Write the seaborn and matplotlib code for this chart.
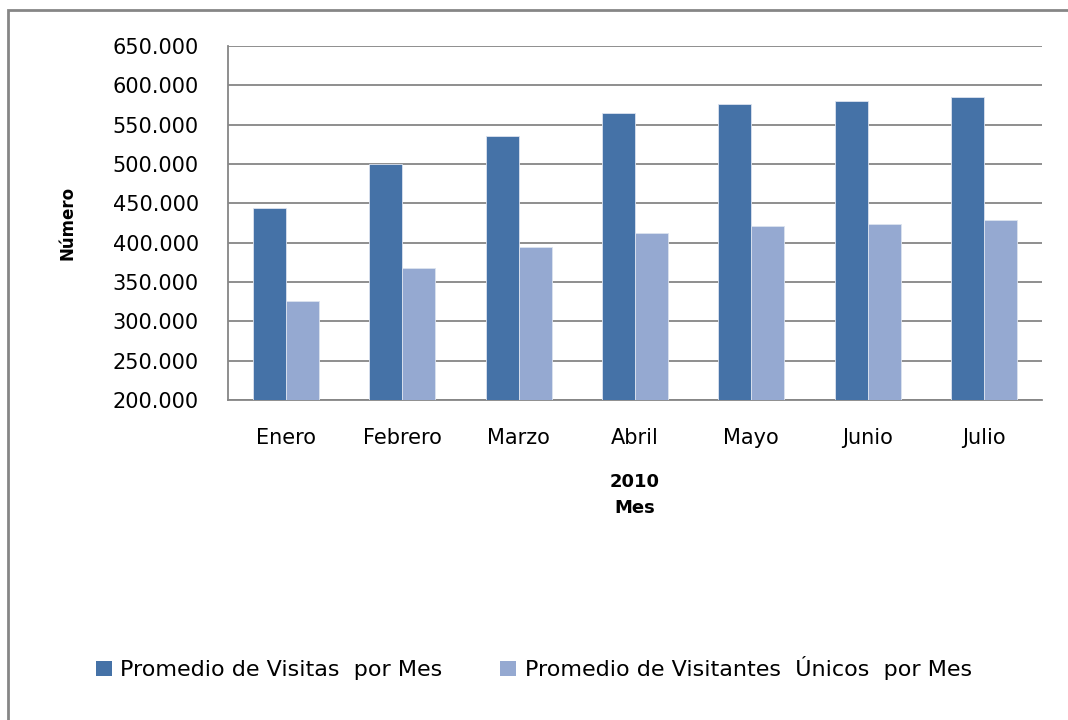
import pandas as pd
import numpy as np
import seaborn as sns
import matplotlib.pyplot as plt
from matplotlib.patches import Patch, Rectangle
from matplotlib.ticker import FuncFormatter
plt.switch_backend('agg')

# ---------------------------- datos ----------------------------
meses = ['Enero', 'Febrero', 'Marzo', 'Abril', 'Mayo', 'Junio', 'Julio']
visitas = [444000, 500000, 535000, 565000, 576000, 580500, 585000]
visitantes = [326000, 368000, 394000, 412000, 421500, 423500, 428500]
series = ['Promedio de Visitas  por Mes', 'Promedio de Visitantes  Únicos  por Mes']
colores = ['#4572A7', '#95A9D1']

df = pd.DataFrame({
    'Mes': meses * 2,
    'Valor': visitas + visitantes,
    'Serie': [series[0]] * len(meses) + [series[1]] * len(meses),
})

sns.set_style('white')
plt.rcParams['font.family'] = ['DejaVu Sans']
plt.rcParams['text.color'] = 'black'
gris = '#868686'

fig = plt.figure(figsize=(10.68, 7.2), dpi=100)
ax = fig.add_axes([228 / 1068, 1 - 400 / 720, (1042 - 228) / 1068, (400 - 46) / 720])

sns.barplot(data=df, x='Mes', y='Valor', hue='Serie', order=meses, hue_order=series,
            palette=colores, saturation=1, width=0.567, edgecolor='#DCE3EF', linewidth=0.6,
            legend=False, ax=ax, zorder=3)

ax.set_ylim(200000, 650000)
ax.set_yticks(np.arange(200000, 650001, 50000))
ax.yaxis.set_major_formatter(FuncFormatter(lambda v, p: f'{int(v):,}'.replace(',', '.')))
ax.set_xlim(-0.5, len(meses) - 0.5)
ax.set_xticks(np.arange(-0.5, len(meses), 1.0), minor=True)
ax.tick_params(axis='x', which='major', length=0, labelsize=15, pad=20, labelcolor='black')
ax.tick_params(axis='x', which='minor', length=6, width=1.2, color=gris)
ax.tick_params(axis='y', length=7, width=1.2, color=gris, labelsize=15, pad=14, labelcolor='black')
ax.grid(axis='y', color=gris, linewidth=1.3, zorder=0)
ax.set_axisbelow(True)
for s in ['top', 'right']:
    ax.spines[s].set_visible(False)
for s in ['left', 'bottom']:
    ax.spines[s].set_color(gris)
    ax.spines[s].set_linewidth(1.3)

ax.set_ylabel('Número', fontsize=12, fontweight='bold', labelpad=26, color='black')
ax.set_xlabel('2010\nMes', fontsize=13, fontweight='bold', labelpad=18, linespacing=1.6, color='black')

handles = [Patch(facecolor=c, edgecolor='none') for c in colores]
fig.legend(handles, series, loc='center', bbox_to_anchor=(0.5, 0.072), ncol=2,
           frameon=False, fontsize=16, handlelength=0.7, handleheight=0.7,
           handletextpad=0.4, columnspacing=2.6)

# marco exterior del gráfico
fig.patches.append(Rectangle((8 / 1068, -0.05), 1.2, 1 - 10 / 720 + 0.05,
                             transform=fig.transFigure, fill=False,
                             edgecolor=gris, linewidth=2, clip_on=False))

plt.savefig('out.png', dpi=100)
plt.close()
